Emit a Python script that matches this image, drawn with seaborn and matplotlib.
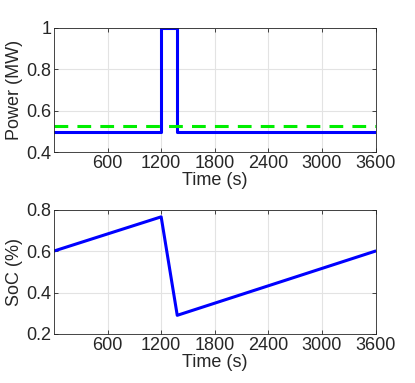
import numpy as np
import pandas as pd
import seaborn as sns
from matplotlib import pyplot as plt

# power profile (MW) and state of charge
power_t = [0, 1200, 1200, 1380, 1380, 3600]
power_mw = [0.5, 0.5, 1.0, 1.0, 0.5, 0.5]
avg_t = [0, 3600]
avg_mw = [0.525, 0.525]
soc_t = [0, 1200, 1380, 3600]
soc_val = [0.6, 0.765, 0.29, 0.6]
x_ticks = [600, 1200, 1800, 2400, 3000, 3600]

sns.set_style('whitegrid')
plt.rcParams['font.family'] = ['Liberation Sans', 'DejaVu Sans']
plt.rcParams['font.size'] = 13

df_p = pd.DataFrame({'t': power_t, 'p': power_mw})
df_a = pd.DataFrame({'t': avg_t, 'p': avg_mw})
df_s = pd.DataFrame({'t': soc_t, 's': soc_val})

fig, (ax1, ax2) = plt.subplots(2, 1, figsize=(4.15, 3.83), dpi=100)
fig.subplots_adjust(left=0.13, right=0.905, top=0.927, bottom=0.128, hspace=0.46)

sns.lineplot(x='t', y='p', data=df_p, ax=ax1, color='#0000ff', lw=2.2,
             sort=False, estimator=None)
sns.lineplot(x='t', y='p', data=df_a, ax=ax1, color='#00ee00', lw=2.2,
             estimator=None)
ax1.lines[-1].set_dashes([4.5, 3])
ax1.set_ylim(0.4, 1)
ax1.set_yticks([0.4, 0.6, 0.8, 1])
ax1.set_yticklabels(['0.4', '0.6', '0.8', '1'])
ax1.set_ylabel('Power (MW)', labelpad=2)

sns.lineplot(x='t', y='s', data=df_s, ax=ax2, color='#0000ff', lw=2.2,
             sort=False, estimator=None)
ax2.set_ylim(0.2, 0.8)
ax2.set_yticks([0.2, 0.4, 0.6, 0.8])
ax2.set_ylabel('SoC (%)', labelpad=2)

for ax in (ax1, ax2):
    ax.set_xlim(0, 3600)
    ax.set_xticks(x_ticks)
    ax.set_xlabel('Time (s)', labelpad=0)
    ax.grid(True, color='#e3e3e3', lw=0.8)
    ax.xaxis.label.set_color('#262626')
    ax.yaxis.label.set_color('#262626')
    for s in ax.spines.values():
        s.set_color('#262626')
        s.set_linewidth(0.6)
    ax.tick_params(direction='in', length=3, width=0.6, colors='#262626', pad=2,
                   labelsize=13, top=True, right=True, bottom=True, left=True)

plt.savefig('out.png', dpi=100)
